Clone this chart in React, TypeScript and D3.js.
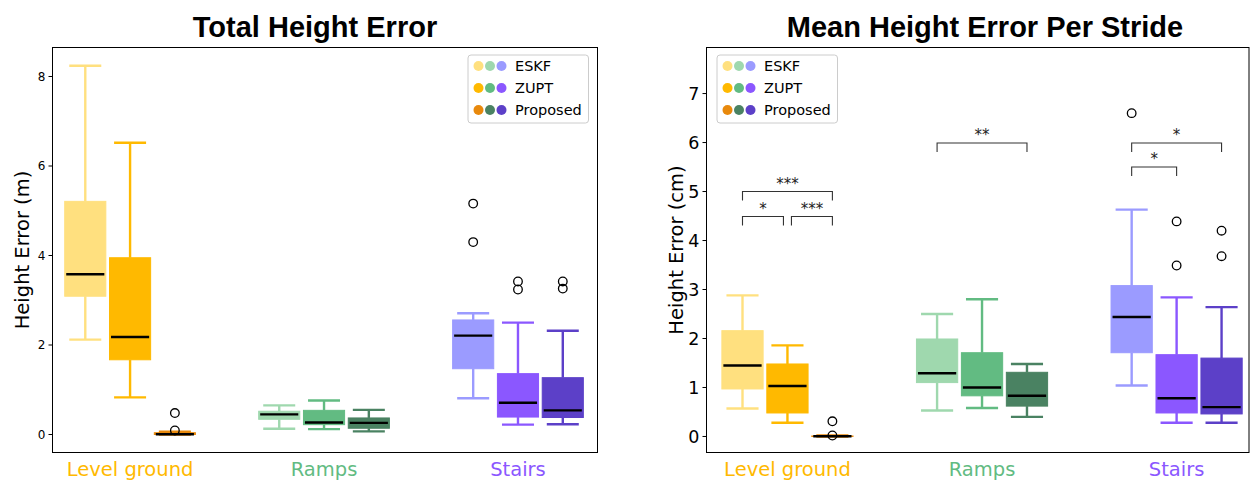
import React from "react";
import * as d3 from "d3";

const categories = ["Level ground", "Ramps", "Stairs"];
const methods = ["ESKF", "ZUPT", "Proposed"];
const groupColors = [
  ["#FFE07F", "#FFB900", "#E8890C"],
  ["#9FD8AE", "#62BB82", "#4A8262"],
  ["#9B9BFF", "#8B57FF", "#5C40C8"],
];
const labelColors = ["#FFB900", "#62BB82", "#8B57FF"];

// [low whisker, q1, median, q3, high whisker]; group-major, method-minor
const totalStats = [
  [2.12, 3.09, 3.58, 5.21, 8.24],
  [0.83, 1.67, 2.18, 3.95, 6.52],
  [0.0, 0.0, 0.005, 0.04, 0.06],
  [0.13, 0.34, 0.45, 0.52, 0.65],
  [0.12, 0.22, 0.27, 0.54, 0.76],
  [0.07, 0.14, 0.26, 0.37, 0.55],
  [0.81, 1.47, 2.21, 2.56, 2.71],
  [0.22, 0.39, 0.71, 1.36, 2.5],
  [0.23, 0.38, 0.54, 1.27, 2.32],
];
const totalOutliers = [[], [], [0.09, 0.48], [], [], [], [4.3, 5.16], [3.24, 3.42], [3.26, 3.42]];

const strideStats = [
  [0.57, 0.97, 1.45, 2.16, 2.88],
  [0.28, 0.48, 1.03, 1.48, 1.86],
  [0.0, 0.0, 0.005, 0.01, 0.02],
  [0.53, 1.1, 1.29, 1.99, 2.5],
  [0.58, 0.83, 1.0, 1.71, 2.8],
  [0.4, 0.62, 0.83, 1.31, 1.48],
  [1.04, 1.71, 2.44, 3.08, 4.63],
  [0.28, 0.48, 0.78, 1.67, 2.84],
  [0.28, 0.46, 0.6, 1.6, 2.64],
];
const strideOutliers = [[], [], [0.02, 0.31], [], [], [], [6.6], [3.49, 4.39], [3.68, 4.2]];

const totalTicks = [0, 2, 4, 6, 8];
const strideTicks = [0, 1, 2, 3, 4, 5, 6, 7];

const strideBrackets = [
  { group: 0, from: 0, to: 1, y: 4.49, label: "*" },
  { group: 0, from: 1, to: 2, y: 4.49, label: "***" },
  { group: 0, from: 0, to: 2, y: 5.0, label: "***" },
  { group: 1, from: 0, to: 2, y: 5.99, label: "**" },
  { group: 2, from: 0, to: 1, y: 5.5, label: "*" },
  { group: 2, from: 0, to: 2, y: 5.99, label: "*" },
];

type Bracket = { group: number; from: number; to: number; y: number; label: string };

type PanelProps = {
  title: string;
  titleX: number;
  x0: number;
  x1: number;
  y0: number;
  y1: number;
  xDomain: [number, number];
  yDomain: [number, number];
  ticks: number[];
  tickFont: number;
  yLabel: string;
  yLabelX: number;
  stats: number[][];
  outliers: number[][];
  brackets: Bracket[];
  legendX: number;
};

const FONT = "'DejaVu Sans', sans-serif";
const OFFSET = 0.231;
const BOXW = 0.212;
const CAPW = 0.165;

function Panel(p: PanelProps) {
  const x = d3.scaleLinear().domain(p.xDomain).range([p.x0, p.x1]);
  const y = d3.scaleLinear().domain(p.yDomain).range([p.y1, p.y0]);
  const pos = (g: number, m: number) => g + (m - 1) * OFFSET;
  const boxes: React.ReactNode[] = [];
  categories.forEach((_, g) => {
    methods.forEach((__, m) => {
      const i = g * 3 + m;
      const [lo, q1, med, q3, hi] = p.stats[i];
      const c = groupColors[g][m];
      const cx = x(pos(g, m));
      const bw = x(BOXW) - x(0);
      const cw = x(CAPW) - x(0);
      boxes.push(
        <g key={i}>
          <line x1={cx} x2={cx} y1={y(lo)} y2={y(q1)} stroke={c} strokeWidth={2.4} />
          <line x1={cx} x2={cx} y1={y(q3)} y2={y(hi)} stroke={c} strokeWidth={2.4} />
          <line x1={cx - cw / 2} x2={cx + cw / 2} y1={y(lo)} y2={y(lo)} stroke={c} strokeWidth={2.4} />
          <line x1={cx - cw / 2} x2={cx + cw / 2} y1={y(hi)} y2={y(hi)} stroke={c} strokeWidth={2.4} />
          <rect
            x={cx - bw / 2}
            y={y(q3)}
            width={bw}
            height={Math.max(0.5, y(q1) - y(q3))}
            fill={c}
            stroke={c}
            strokeWidth={1}
          />
          <line x1={cx - bw / 2 + 1.5} x2={cx + bw / 2 - 1.5} y1={y(med)} y2={y(med)} stroke="#000" strokeWidth={2.4} />
          {p.outliers[i].map((v, k) => (
            <circle key={k} cx={cx} cy={y(v)} r={4.3} fill="none" stroke="#000" strokeWidth={1.3} />
          ))}
        </g>
      );
    });
  });

  const brackets = p.brackets.map((b, k) => {
    let xa = x(pos(b.group, b.from));
    let xb = x(pos(b.group, b.to));
    const shared = p.brackets.filter((o) => o !== b && o.group === b.group && o.y === b.y);
    if (shared.some((o) => o.from === b.to)) xb -= 4;
    if (shared.some((o) => o.to === b.from)) xa += 4;
    const yy = y(b.y);
    return (
      <g key={k}>
        <path d={`M${xa},${yy + 9} V${yy} H${xb} V${yy + 9}`} fill="none" stroke="#333" strokeWidth={1.1} />
        <text x={(xa + xb) / 2} y={yy - 3} textAnchor="middle" fontFamily={FONT} fontSize={15} fill="#222">
          {b.label}
        </text>
      </g>
    );
  });

  const cy = (p.y0 + p.y1) / 2;
  const lx = p.legendX;
  return (
    <g>
      <text
        x={p.titleX}
        y={37}
        textAnchor="middle"
        fontFamily="'Liberation Sans', Arial, sans-serif"
        fontWeight="bold"
        fontSize={29}
        fill="#000"
      >
        {p.title}
      </text>
      {boxes}
      {brackets}
      {p.ticks.map((t) => (
        <g key={t}>
          <line x1={p.x0 - 4} x2={p.x0} y1={y(t)} y2={y(t)} stroke="#000" strokeWidth={1} />
          <text
            x={p.x0 - 7}
            y={y(t)}
            dy="0.36em"
            textAnchor="end"
            fontFamily={FONT}
            fontSize={p.tickFont}
            fill="#000"
          >
            {t}
          </text>
        </g>
      ))}
      {categories.map((c, g) => (
        <text
          key={c}
          x={x(g)}
          y={476}
          textAnchor="middle"
          fontFamily={FONT}
          fontSize={19.5}
          fill={labelColors[g]}
        >
          {c}
        </text>
      ))}
      <text
        transform={`translate(${p.yLabelX},${cy}) rotate(-90)`}
        textAnchor="middle"
        dy="0.36em"
        fontFamily={FONT}
        fontSize={19.5}
        fill="#000"
      >
        {p.yLabel}
      </text>
      <g>
        <rect x={lx} y={55} width={120.5} height={68} rx={3} fill="#fff" fillOpacity={0.8} stroke="#ccc" strokeWidth={1} />
        {methods.map((m, mi) => {
          const ry = 66 + mi * 22;
          return (
            <g key={m}>
              {categories.map((_, g) => (
                <circle key={g} cx={lx + 10.5 + g * 11.5} cy={ry} r={5} fill={groupColors[g][mi]} />
              ))}
              <text x={lx + 47} y={ry} dy="0.36em" fontFamily={FONT} fontSize={14.5} fill="#000">
                {m}
              </text>
            </g>
          );
        })}
      </g>
      <rect x={p.x0} y={p.y0} width={p.x1 - p.x0} height={p.y1 - p.y0} fill="none" stroke="#000" strokeWidth={1} />
    </g>
  );
}

export default function App() {
  return (
    <svg
      width={1252}
      height={480}
      style={{ position: "absolute", left: 0, top: 0, background: "#fff" }}
    >
      <rect x={0} y={0} width={1252} height={480} fill="#fff" />
      <Panel
        title="Total Height Error"
        titleX={315}
        x0={52.5}
        x1={597.5}
        y0={47.5}
        y1={452.5}
        xDomain={[-0.4, 2.41]}
        yDomain={[-0.402, 8.648]}
        ticks={totalTicks}
        tickFont={12}
        yLabel="Height Error (m)"
        yLabelX={22}
        stats={totalStats}
        outliers={totalOutliers}
        brackets={[]}
        legendX={468}
      />
      <Panel
        title="Mean Height Error Per Stride"
        titleX={985}
        x0={706.5}
        x1={1249}
        y0={47.5}
        y1={452.5}
        xDomain={[-0.416, 2.372]}
        yDomain={[-0.327, 7.94]}
        ticks={strideTicks}
        tickFont={17.5}
        yLabel="Height Error (cm)"
        yLabelX={676}
        stats={strideStats}
        outliers={strideOutliers}
        brackets={strideBrackets}
        legendX={717}
      />
    </svg>
  );
}
